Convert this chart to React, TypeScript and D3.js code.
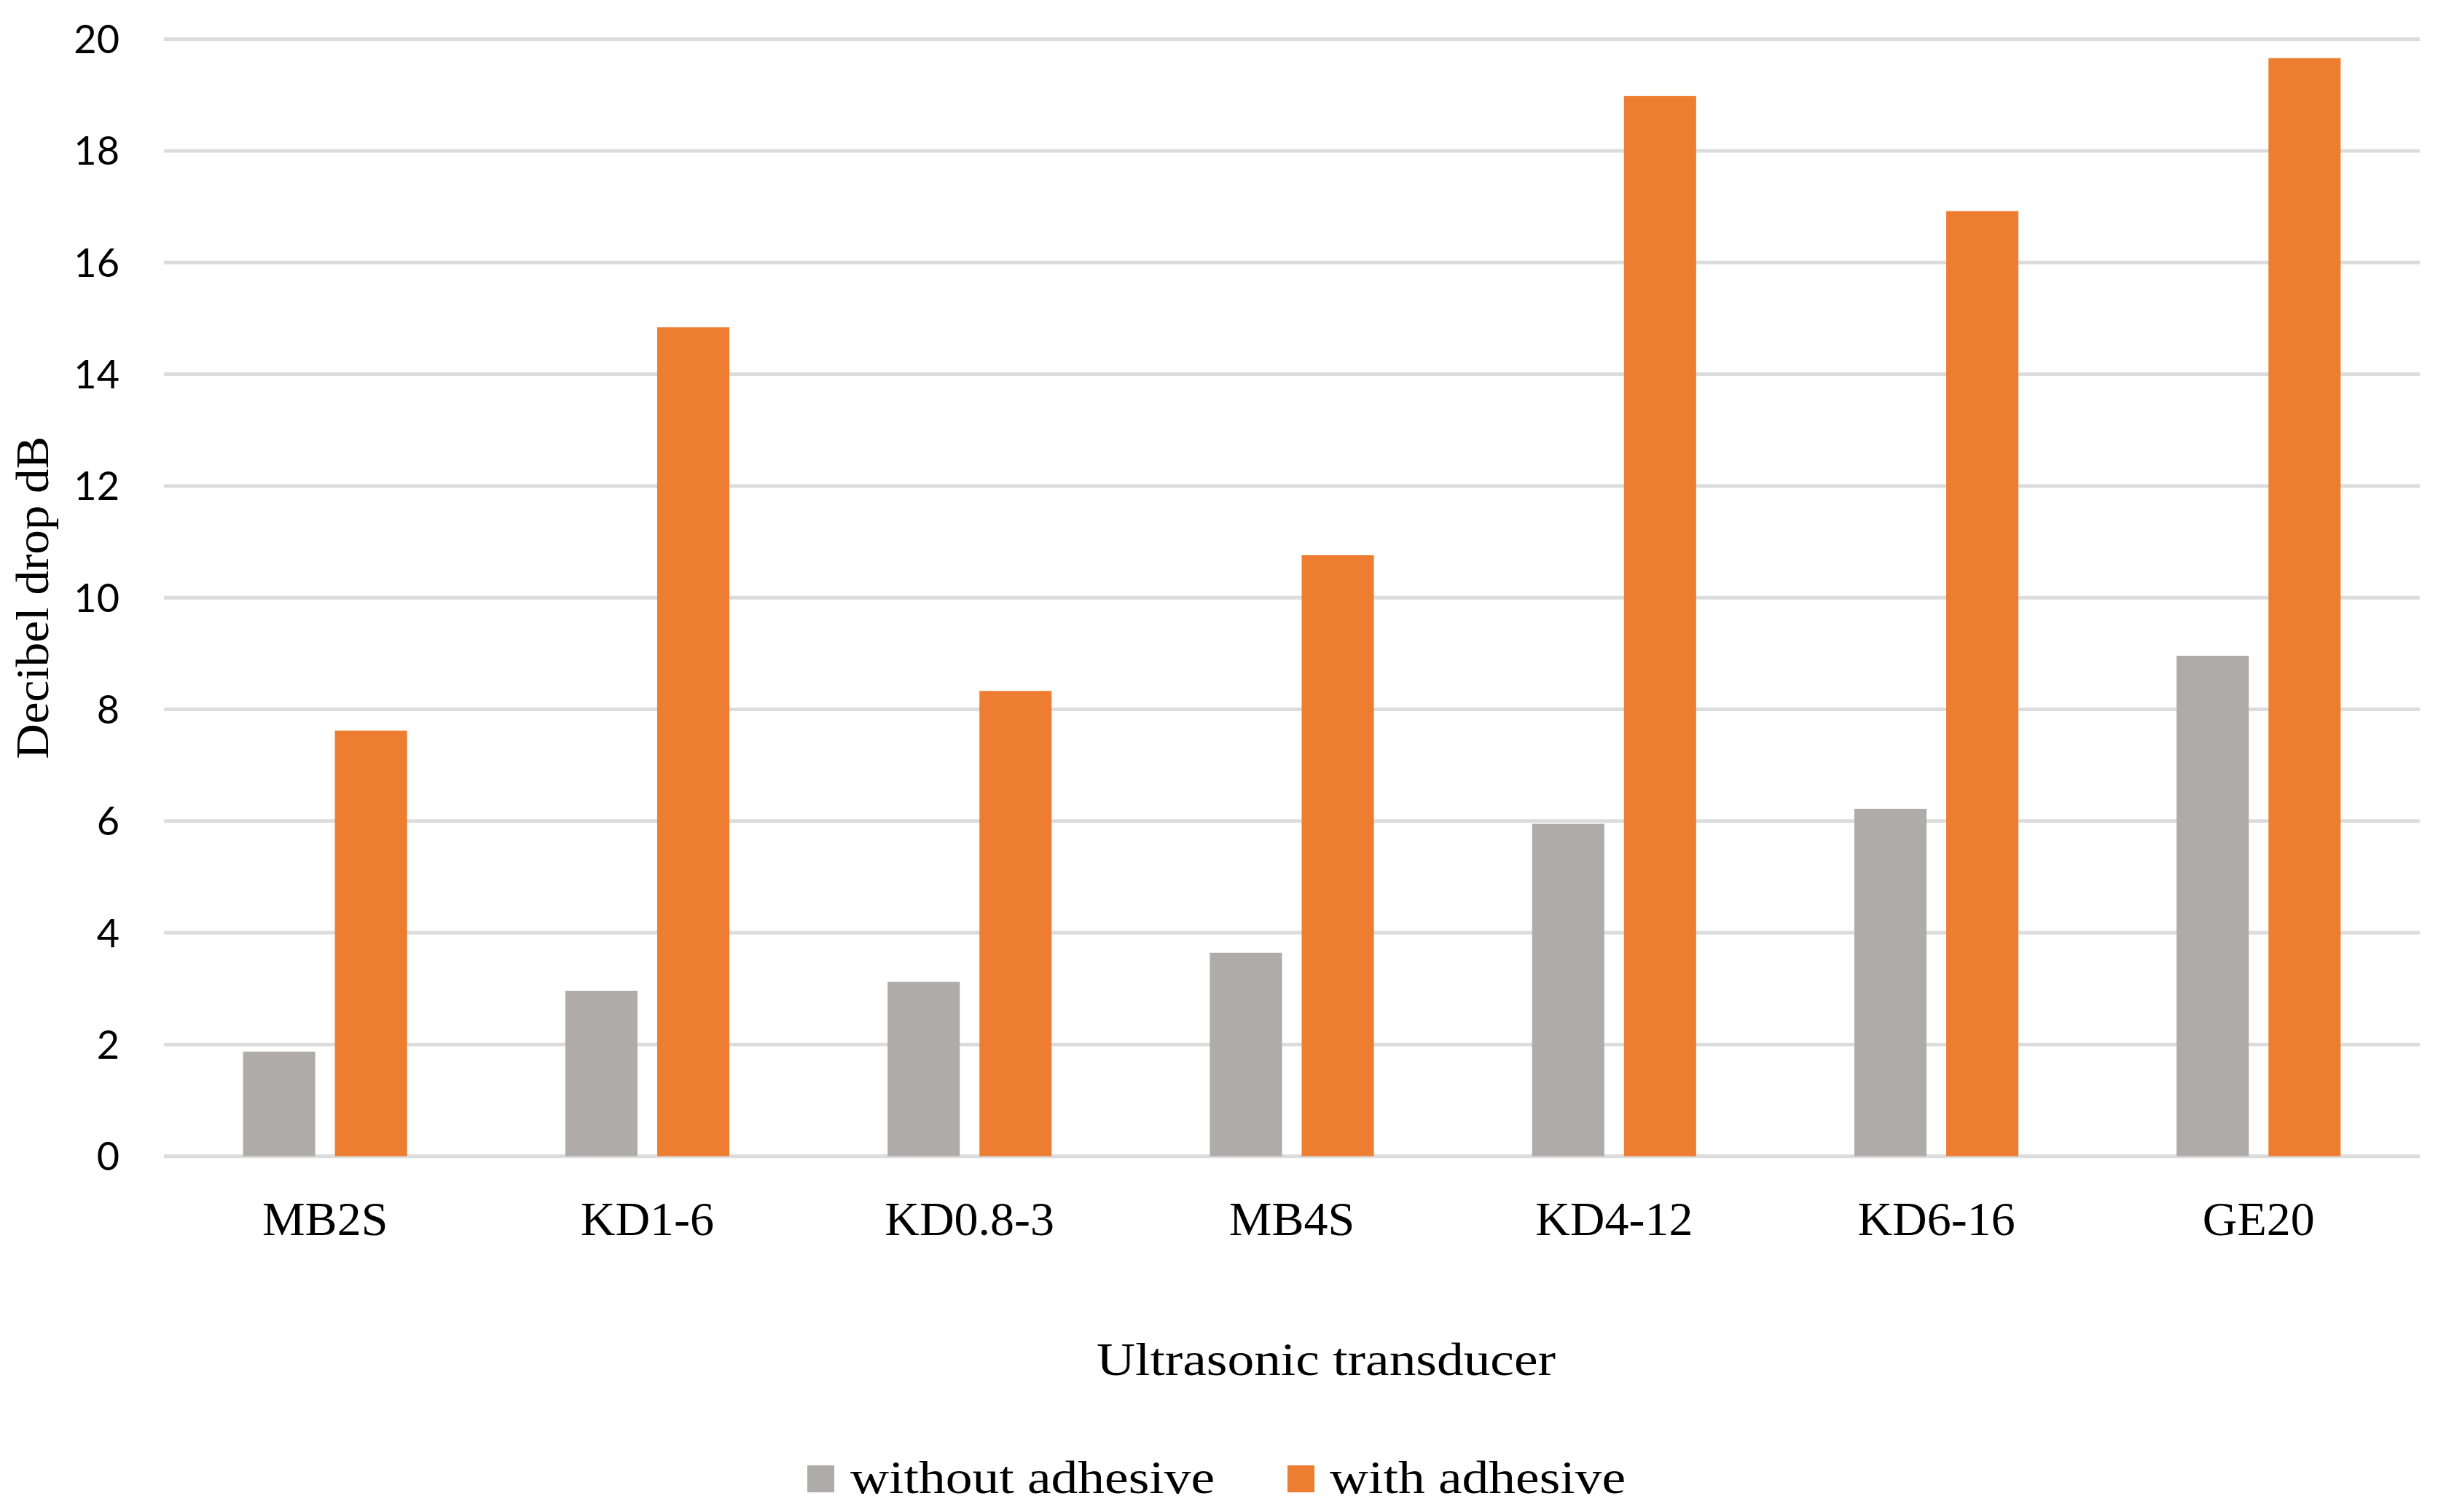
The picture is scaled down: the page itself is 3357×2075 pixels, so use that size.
import React, { useEffect, useRef } from 'react';
import * as d3 from 'd3';

// Data
const categories = ['MB2S', 'KD1-6', 'KD0.8-3', 'MB4S', 'KD4-12', 'KD6-16', 'GE20'];
const seriesNames = ['without adhesive', 'with adhesive'];
const withoutAdhesive = [1.87, 2.96, 3.12, 3.64, 5.95, 6.22, 8.96];
const withAdhesive = [7.62, 14.84, 8.33, 10.76, 18.98, 16.92, 19.66];
const yTicks = [0, 2, 4, 6, 8, 10, 12, 14, 16, 18, 20];
const seriesColors = ['#AFABAB', '#ED7D31'];

const WIDTH = 3357;
const HEIGHT = 2075;

const App: React.FC = () => {
  const svgRef = useRef<SVGSVGElement>(null);

  useEffect(() => {
    if (!svgRef.current) return;
    document.body.style.margin = '0';

    const svg = d3.select(svgRef.current);
    svg.selectAll('*').remove();

    const serif = '"Liberation Serif", "Times New Roman", serif';
    const sans = 'Lato, Carlito, "Liberation Sans", sans-serif';

    const plot = { left: 225, right: 3321, top: 53.7, bottom: 1586.7 };

    // Scales
    const x0 = d3
      .scaleBand<string>()
      .domain(categories)
      .range([plot.left, plot.right])
      .paddingInner(0.491)
      .paddingOuter(0.2455);

    const x1 = d3
      .scaleBand<string>()
      .domain(seriesNames)
      .range([0, x0.bandwidth()])
      .paddingInner(0.214);

    const y = d3.scaleLinear().domain([0, 20]).range([plot.bottom, plot.top]);

    svg.append('rect').attr('width', WIDTH).attr('height', HEIGHT).attr('fill', '#ffffff');

    // Gridlines
    svg
      .append('g')
      .selectAll('line')
      .data(yTicks)
      .enter()
      .append('line')
      .attr('x1', plot.left)
      .attr('x2', plot.right)
      .attr('y1', (d) => y(d))
      .attr('y2', (d) => y(d))
      .attr('stroke', '#dcdcdc')
      .attr('stroke-width', 5);

    // Y tick labels
    svg
      .append('g')
      .selectAll('text')
      .data(yTicks)
      .enter()
      .append('text')
      .attr('x', 164)
      .attr('y', (d) => y(d))
      .attr('dy', '0.36em')
      .attr('text-anchor', 'end')
      .style('font-family', sans)
      .style('font-size', '54px')
      .style('fill', '#000')
      .text((d) => d);

    // Bars
    const rows = categories.map((c, i) => ({
      category: c,
      values: [withoutAdhesive[i], withAdhesive[i]],
    }));

    const groups = svg
      .append('g')
      .selectAll('g')
      .data(rows)
      .enter()
      .append('g')
      .attr('transform', (d) => `translate(${x0(d.category)},0)`);

    groups
      .selectAll('rect')
      .data((d) => d.values.map((v, j) => ({ name: seriesNames[j], value: v, j })))
      .enter()
      .append('rect')
      .attr('x', (d) => x1(d.name) || 0)
      .attr('y', (d) => y(d.value))
      .attr('width', x1.bandwidth())
      .attr('height', (d) => y(0) - y(d.value))
      .attr('fill', (d) => seriesColors[d.j]);

    // Category labels
    svg
      .append('g')
      .selectAll('text')
      .data(categories)
      .enter()
      .append('text')
      .attr('x', (d) => (x0(d) || 0) + x0.bandwidth() / 2)
      .attr('y', 1695)
      .attr('text-anchor', 'middle')
      .style('font-family', serif)
      .style('font-size', '66px')
      .style('fill', '#000')
      .text((d) => d);

    // Axis titles
    svg
      .append('text')
      .attr('x', 1820)
      .attr('y', 1887)
      .attr('text-anchor', 'middle')
      .attr('textLength', 630)
      .attr('lengthAdjust', 'spacingAndGlyphs')
      .style('font-family', serif)
      .style('font-size', '64px')
      .style('fill', '#000')
      .text('Ultrasonic transducer');

    svg
      .append('text')
      .attr('transform', `translate(66,${(plot.top + plot.bottom) / 2}) rotate(-90)`)
      .attr('text-anchor', 'middle')
      .attr('textLength', 443)
      .attr('lengthAdjust', 'spacingAndGlyphs')
      .style('font-family', serif)
      .style('font-size', '64px')
      .style('fill', '#000')
      .text('Decibel drop dB');

    // Legend
    const legendItems = [
      { name: seriesNames[0], box: 1108, text: 1167, len: 500 },
      { name: seriesNames[1], box: 1767, text: 1825, len: 406 },
    ];
    const legend = svg.append('g');
    legendItems.forEach((item, i) => {
      legend
        .append('rect')
        .attr('x', item.box)
        .attr('y', 2011)
        .attr('width', 37)
        .attr('height', 37)
        .attr('fill', seriesColors[i]);
      legend
        .append('text')
        .attr('x', item.text)
        .attr('y', 2049)
        .attr('textLength', item.len)
        .attr('lengthAdjust', 'spacingAndGlyphs')
        .style('font-family', serif)
        .style('font-size', '64px')
        .style('fill', '#000')
        .text(item.name);
    });

    return () => {
      svg.selectAll('*').remove();
    };
  }, []);

  return (
    <svg
      ref={svgRef}
      width={WIDTH}
      height={HEIGHT}
      style={{ position: 'absolute', left: 0, top: 0, display: 'block' }}
    />
  );
};

export default App;
